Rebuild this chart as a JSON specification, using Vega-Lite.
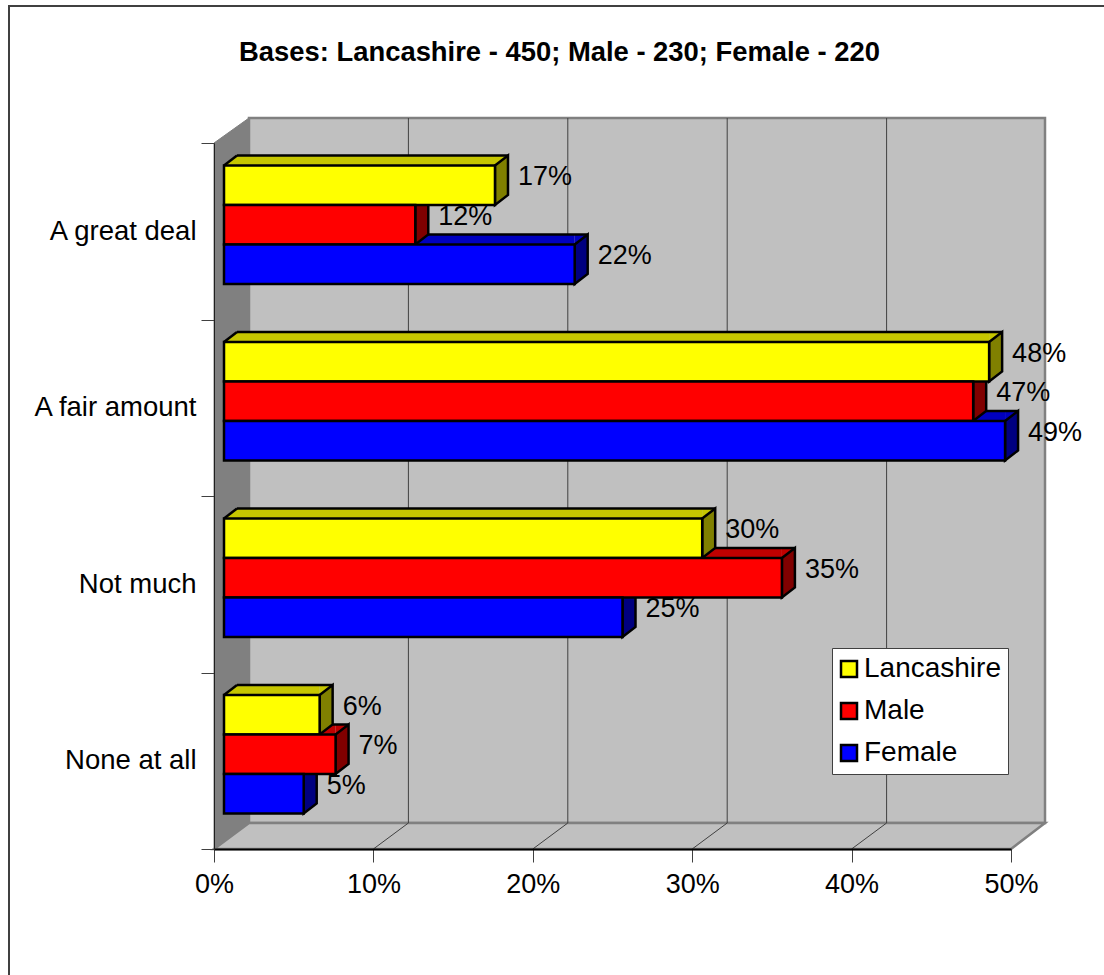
{
"$schema":"https://vega.github.io/schema/vega-lite/v6.json",
"width":797,"height":706,
"autosize":"none",
"padding":{"left":214,"top":143,"right":93,"bottom":126},
"background":"white",
"title":{"text":"Bases: Lancashire - 450; Male - 230; Female - 220","font":"Liberation Sans","fontSize":27.4,"fontWeight":"bold","color":"black","anchor":"middle","frame":"group","dx":-53,"offset":-64},
"config":{"font":"Liberation Sans","view":{"stroke":null}},
"datasets":{
"answers":[
{"answer":"A great deal","group":"Lancashire","share":0.17},
{"answer":"A great deal","group":"Male","share":0.12},
{"answer":"A great deal","group":"Female","share":0.22},
{"answer":"A fair amount","group":"Lancashire","share":0.48},
{"answer":"A fair amount","group":"Male","share":0.47},
{"answer":"A fair amount","group":"Female","share":0.49},
{"answer":"Not much","group":"Lancashire","share":0.30},
{"answer":"Not much","group":"Male","share":0.35},
{"answer":"Not much","group":"Female","share":0.25},
{"answer":"None at all","group":"Lancashire","share":0.06},
{"answer":"None at all","group":"Male","share":0.07},
{"answer":"None at all","group":"Female","share":0.05}
],
"gridTicks":[{"tick":0.1},{"tick":0.2},{"tick":0.3},{"tick":0.4}],
"origin":[{"tick":0}]
},
"resolve":{"scale":{"fill":"independent","yOffset":"independent"}},
"layer":[
{"data":{"name":"origin"},"mark":{"type":"point","shape":"M-205,490L-205,-490L900,-490","size":4,"filled":false,"stroke":"#404040","strokeWidth":2,"opacity":1},"encoding":{"x":{"field":"tick","type":"quantitative","scale":{"domain":[0,0.5],"nice":false}}}},
{"data":{"name":"origin"},"mark":{"type":"point","shape":"M35,-378L831,-378L831,327L35,327Z","size":4,"filled":true,"fill":"#c0c0c0","stroke":"#808080","strokeWidth":2.5,"opacity":1},"encoding":{"x":{"field":"tick","type":"quantitative"}}},
{"data":{"name":"origin"},"mark":{"type":"point","shape":"M0,-353L35,-378L35,327L0,353Z","size":4,"filled":true,"fill":"#808080","stroke":"#808080","strokeWidth":1,"opacity":1},"encoding":{"x":{"field":"tick","type":"quantitative"}}},
{"data":{"name":"origin"},"mark":{"type":"point","shape":"M0,353L35,327L831,327L797,353Z","size":4,"filled":true,"fill":"#c0c0c0","stroke":"#808080","strokeWidth":2.5,"opacity":1},"encoding":{"x":{"field":"tick","type":"quantitative"}}},
{"data":{"name":"gridTicks"},"mark":{"type":"point","shape":"M0,353L35,327L35,-378","size":4,"filled":false,"stroke":"#404040","strokeWidth":1,"opacity":1},"encoding":{"x":{"field":"tick","type":"quantitative"}}},
{"data":{"name":"answers"},"mark":{"type":"bar","orient":"horizontal","xOffset":10,"x2Offset":23},
"encoding":{
"x":{"field":"share","type":"quantitative","stack":null,"axis":{"title":null,"values":[0,0.1,0.2,0.3,0.4,0.5],"format":".0%","grid":false,"domainColor":"#000000","domainWidth":2,"tickColor":"#404040","tickSize":13,"tickWidth":1,"labelFontSize":27,"labelColor":"black","labelPadding":9,"zindex":1,"labelFlush":false}},
"x2":{"datum":0},
"y":{"field":"answer","type":"nominal","sort":["A great deal","A fair amount","Not much","None at all"],"scale":{"domain":["A great deal","A fair amount","Not much","None at all"],"paddingInner":0,"paddingOuter":0},"axis":{"title":null,"tickBand":"extent","domainColor":"#202020","domainWidth":1,"tickColor":"#404040","tickSize":13,"tickWidth":1,"labelFontSize":27.5,"labelColor":"black","labelPadding":5,"zindex":1}},
"yOffset":{"field":"group","type":"nominal","scale":{"domain":["Lancashire","Male","Female"],"range":[12.5,131],"paddingInner":0,"paddingOuter":0}},
"fill":{"field":"group","type":"nominal","legend":null,"scale":{"domain":["Lancashire","Male","Female"],"range":["#c6c600","#c00000","#0000c0"]}}
}},
{"data":{"name":"answers"},"mark":{"type":"point","shape":"M0,-19.75L13,-29.75L0,-29.75Z","size":4,"filled":true,"strokeWidth":0,"opacity":1,"xOffset":10},
"encoding":{
"x":{"field":"share","type":"quantitative"},
"y":{"field":"answer","type":"nominal","sort":["A great deal","A fair amount","Not much","None at all"]},
"yOffset":{"field":"group","type":"nominal","scale":{"domain":["Lancashire","Male","Female"],"range":[42.25,121.25],"padding":0}},
"fill":{"field":"group","type":"nominal","legend":null,"scale":{"domain":["Lancashire","Male","Female"],"range":["#c6c600","#c00000","#0000c0"]}}
}},
{"data":{"name":"answers"},"mark":{"type":"point","shape":"M0,-19.75L13,-29.75L13,-19.75Z","size":4,"filled":true,"strokeWidth":0,"opacity":1,"xOffset":10},
"encoding":{
"x":{"datum":0,"type":"quantitative"},
"y":{"field":"answer","type":"nominal","sort":["A great deal","A fair amount","Not much","None at all"]},
"yOffset":{"field":"group","type":"nominal","scale":{"domain":["Lancashire","Male","Female"],"range":[42.25,121.25],"padding":0}},
"fill":{"field":"group","type":"nominal","legend":null,"scale":{"domain":["Lancashire","Male","Female"],"range":["#c6c600","#c00000","#0000c0"]}}
}},
{"data":{"name":"answers"},"mark":{"type":"rule","color":"black","strokeWidth":2.5,"xOffset":23,"x2Offset":23},
"encoding":{
"x":{"field":"share","type":"quantitative"},
"x2":{"datum":0},
"y":{"field":"answer","type":"nominal","sort":["A great deal","A fair amount","Not much","None at all"]},
"yOffset":{"field":"group","type":"nominal","scale":{"domain":["Lancashire","Male","Female"],"range":[-7.25,111.25],"paddingInner":0,"paddingOuter":0}}
}},
{"data":{"name":"answers"},"mark":{"type":"point","shape":"M0,-19.75L13,-29.75","size":4,"filled":false,"stroke":"black","strokeWidth":2.5,"opacity":1,"xOffset":10},
"encoding":{
"x":{"datum":0,"type":"quantitative"},
"y":{"field":"answer","type":"nominal","sort":["A great deal","A fair amount","Not much","None at all"]},
"yOffset":{"field":"group","type":"nominal","scale":{"domain":["Lancashire","Male","Female"],"range":[42.25,121.25],"padding":0}}
}},
{"data":{"name":"answers"},"mark":{"type":"point","shape":"M0,-19.75L13,-29.75L13,9.75L0,19.75Z","size":4,"filled":true,"stroke":"black","strokeWidth":2.5,"opacity":1,"xOffset":10},
"encoding":{
"x":{"field":"share","type":"quantitative"},
"y":{"field":"answer","type":"nominal","sort":["A great deal","A fair amount","Not much","None at all"]},
"yOffset":{"field":"group","type":"nominal","scale":{"domain":["Lancashire","Male","Female"],"range":[42.25,121.25],"padding":0}},
"fill":{"field":"group","type":"nominal","legend":null,"scale":{"domain":["Lancashire","Male","Female"],"range":["#808000","#800000","#000080"]}}
}},
{"data":{"name":"answers"},"mark":{"type":"bar","orient":"horizontal","stroke":"black","strokeWidth":2.5,"xOffset":10,"x2Offset":10},
"encoding":{
"x":{"field":"share","type":"quantitative","stack":null},
"x2":{"datum":0},
"y":{"field":"answer","type":"nominal","sort":["A great deal","A fair amount","Not much","None at all"]},
"yOffset":{"field":"group","type":"nominal","sort":["Lancashire","Male","Female"],"scale":{"domain":["Lancashire","Male","Female"],"range":[22.5,141],"paddingInner":0,"paddingOuter":0}},
"fill":{"field":"group","type":"nominal","sort":["Lancashire","Male","Female"],"scale":{"domain":["Lancashire","Male","Female"],"range":["#ffff00","#ff0000","#0000ff"]},
"legend":{"title":null,"orient":"none","legendX":618,"legendY":505,"fillColor":"white","strokeColor":"#404040","padding":7,"symbolOffset":-4,"symbolType":"square","symbolSize":256,"symbolStrokeColor":"black","symbolStrokeWidth":2.5,"labelFontSize":28,"labelColor":"black","labelOffset":1,"rowPadding":14,"zindex":1,"labelLimit":300}}
}},
{"data":{"name":"answers"},"mark":{"type":"text","align":"left","baseline":"middle","fontSize":27,"color":"black","xOffset":33},
"encoding":{
"x":{"field":"share","type":"quantitative"},
"y":{"field":"answer","type":"nominal","sort":["A great deal","A fair amount","Not much","None at all"]},
"yOffset":{"field":"group","type":"nominal","scale":{"domain":["Lancashire","Male","Female"],"range":[34.25,113.25],"padding":0}},
"text":{"field":"share","type":"quantitative","format":".0%"}
}}
]
}
